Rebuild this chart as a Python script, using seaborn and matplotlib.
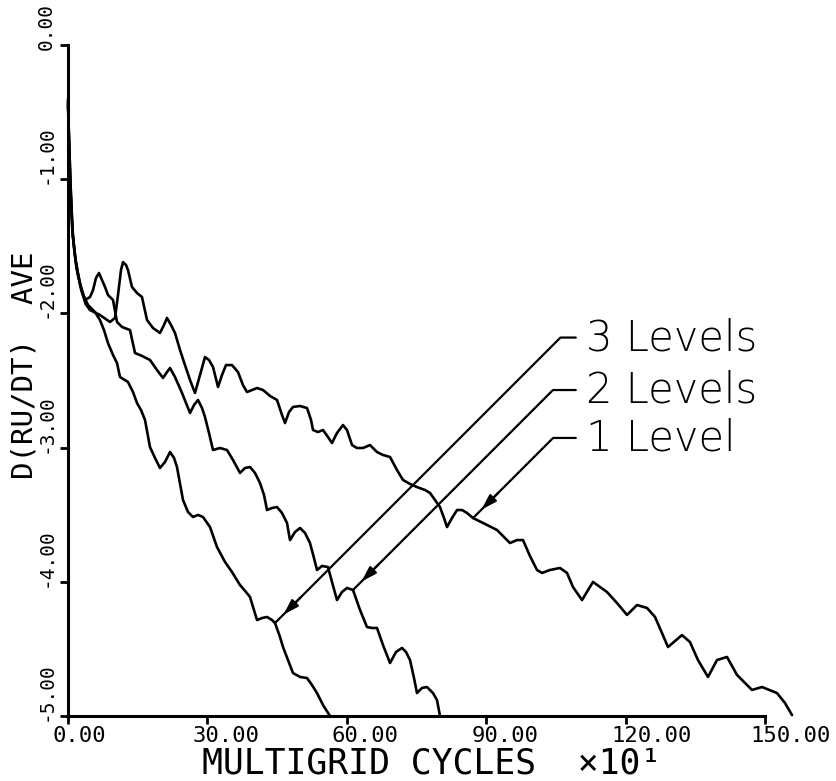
import numpy as np
import pandas as pd
import matplotlib
matplotlib.use("Agg")
import matplotlib.pyplot as plt
import matplotlib.transforms as mtransforms
import seaborn as sns
from matplotlib import font_manager

# ---------------- data ----------------
levels = ["3 Levels", "2 Levels", "1 Level"]

x3 = [0.0, 0.2, 0.5, 0.9, 1.4, 2.2, 3.1, 4.30, 5.81, 6.88, 7.74, 8.60, 9.68, 10.54, 11.18,
      12.90, 13.98, 14.84, 15.70, 16.56, 17.63, 18.71, 19.78, 20.86, 21.94, 22.80, 23.44,
      24.73, 25.81, 26.88, 27.96, 29.03, 30.54, 32.04, 33.76, 35.27, 36.99, 38.28, 39.14,
      40.65, 41.72, 42.80, 43.87, 44.52, 45.59, 46.24, 47.31, 48.39, 49.89, 51.40, 52.47,
      53.55, 54.84, 56.34]
y3 = [-0.40, -0.72, -1.05, -1.35, -1.55, -1.72, -1.85, -1.937, -1.990, -2.050, -2.124, -2.221,
      -2.310, -2.370, -2.474, -2.511, -2.586, -2.668, -2.720, -2.794, -2.996, -3.077, -3.152,
      -3.107, -3.033, -3.077, -3.145, -3.390, -3.480, -3.517, -3.502, -3.517, -3.592, -3.741,
      -3.852, -3.927, -4.024, -4.076, -4.113, -4.285, -4.270, -4.262, -4.285, -4.307, -4.411,
      -4.486, -4.583, -4.680, -4.709, -4.717, -4.769, -4.829, -4.918, -5.0]

x2 = [0.0, 0.3, 0.6, 1.0, 1.7, 2.6, 3.66, 4.73, 5.38, 6.02, 6.67, 7.31, 7.96, 8.60, 9.68,
      10.54, 11.61, 13.33, 14.41, 15.91, 17.63, 19.14, 20.43, 21.29, 21.94, 23.01, 24.52,
      25.38, 26.24, 27.10, 27.96, 28.82, 29.46, 30.32, 31.18, 32.69, 34.19, 35.48, 36.99,
      38.06, 39.14, 40.22, 41.29, 42.15, 42.80, 43.87, 44.95, 46.02, 47.10, 47.74, 48.82,
      49.89, 50.97, 52.04, 52.90, 53.55, 54.62, 55.91, 56.77, 57.85, 58.92, 60.00, 61.29,
      62.80, 64.30, 65.38, 66.45, 67.74, 69.25, 70.54, 71.83, 72.69, 73.55, 74.41, 75.05,
      76.13, 77.20, 78.49, 79.35, 80.00]
y2 = [-0.45, -0.78, -1.10, -1.42, -1.62, -1.78, -1.900, -1.878, -1.826, -1.736, -1.699,
      -1.751, -1.803, -1.863, -1.900, -2.064, -2.101, -2.124, -2.295, -2.317, -2.347, -2.422,
      -2.481, -2.437, -2.407, -2.474, -2.593, -2.668, -2.742, -2.683, -2.645, -2.705, -2.772,
      -2.891, -3.018, -3.003, -3.018, -3.092, -3.189, -3.152, -3.145, -3.189, -3.264, -3.353,
      -3.465, -3.450, -3.443, -3.487, -3.562, -3.689, -3.629, -3.599, -3.636, -3.711, -3.823,
      -3.912, -3.882, -3.890, -4.001, -4.136, -4.076, -4.046, -4.061, -4.210, -4.337, -4.344,
      -4.344, -4.471, -4.605, -4.523, -4.493, -4.523, -4.583, -4.717, -4.829, -4.791, -4.784,
      -4.829, -4.881, -5.0]

x1 = [0.0, 0.2, 0.5, 1.0, 1.8, 2.8, 3.8, 4.73, 6.88, 9.03, 10.11, 10.75, 11.40, 11.83, 12.47,
      12.90, 13.76, 14.84, 15.91, 16.99, 18.28, 19.78, 20.65, 21.29, 22.15, 23.01, 24.09,
      25.16, 26.24, 27.31, 28.39, 29.46, 30.32, 31.18, 32.26, 33.12, 33.98, 35.27, 36.56,
      37.63, 38.49, 39.57, 40.65, 41.94, 43.44, 44.95, 46.02, 46.67, 47.53, 48.39, 49.89,
      51.40, 52.26, 52.69, 53.76, 54.84, 55.91, 56.77, 57.85, 59.14, 60.00, 61.08, 62.15,
      63.44, 64.95, 66.45, 67.74, 69.25, 70.75, 72.04, 73.55, 75.05, 76.77, 77.85, 78.92,
      80.00, 80.86, 81.51, 82.58, 83.66, 84.73, 85.81, 87.10, 89.68, 92.26, 93.98, 95.05,
      96.56, 97.85, 99.35, 100.86, 101.94, 103.66, 105.81, 107.31, 108.60, 110.54, 112.90,
      115.91, 118.06, 120.22, 122.37, 124.52, 126.24, 127.74, 129.03, 132.04, 133.76,
      135.48, 137.63, 139.57, 141.72, 143.87, 147.10, 149.25, 152.47, 154.19, 155.70]
y1 = [-0.42, -0.68, -1.00, -1.40, -1.66, -1.82, -1.93, -1.975, -2.012, -2.064, -2.034, -1.863,
      -1.677, -1.618, -1.639, -1.677, -1.803, -1.848, -1.878, -2.049, -2.109, -2.146, -2.086,
      -2.034, -2.086, -2.146, -2.273, -2.385, -2.496, -2.593, -2.459, -2.325, -2.347, -2.399,
      -2.548, -2.459, -2.385, -2.385, -2.437, -2.534, -2.586, -2.571, -2.556, -2.571, -2.615,
      -2.645, -2.757, -2.817, -2.735, -2.697, -2.690, -2.705, -2.794, -2.869, -2.884, -2.869,
      -2.921, -2.966, -2.891, -2.832, -2.869, -2.981, -3.003, -3.003, -2.981, -3.033, -3.055,
      -3.070, -3.167, -3.241, -3.271, -3.294, -3.316, -3.338, -3.390, -3.443, -3.525, -3.592,
      -3.525, -3.465, -3.465, -3.487, -3.525, -3.569, -3.614, -3.674, -3.711, -3.689, -3.689,
      -3.808, -3.912, -3.934, -3.912, -3.897, -3.934, -4.039, -4.136, -4.001, -4.076, -4.158,
      -4.247, -4.173, -4.195, -4.262, -4.382, -4.486, -4.397, -4.449, -4.583, -4.709, -4.583,
      -4.560, -4.694, -4.806, -4.784, -4.829, -4.903, -4.993]

# points the labels point at (on each curve)
label_tips_x = [44.52, 61.29, 87.10]
label_tips_y = [-4.307, -4.061, -3.525]
label_text_y = [-2.18, -2.571, -2.928]

xticks = [0, 30, 60, 90, 120, 150]
xticklabels = ["0.00", "30.00", "60.00", "90.00", "120.00", "150.00"]
yticks = [0, -1, -2, -3, -4, -5]
yticklabels = ["0.00", "-1.00", "-2.00", "-3.00", "-4.00", "-5.00"]
xlabel = "MULTIGRID CYCLES  \u00d710\u00b9"
ylabel = "D(RU/DT)  AVE"

# ---------------- build table ----------------
frames = []
for name, xs, ys in zip(levels, [x3, x2, x1], [y3, y2, y1]):
    frames.append(pd.DataFrame({"cycles": xs, "resid": ys, "level": name,
                                "order": np.arange(len(xs))}))
df = pd.concat(frames, ignore_index=True)

# ---------------- style ----------------
sns.set_theme(style="white")
plt.rcParams["axes.unicode_minus"] = False
plt.rcParams["font.family"] = ["DejaVu Sans Mono", "DejaVu Sans"]

# pick a light sans face for the hand-lettered labels if one is installed
light_family, light_weight = "DejaVu Sans", "normal"
for fam in ["DejaVu Sans", "Lato", "Open Sans", "Inter", "Roboto", "Noto Sans"]:
    ws_num = []
    for f in font_manager.fontManager.ttflist:
        if f.name != fam:
            continue
        w = f.weight
        if isinstance(w, (int, float)):
            ws_num.append(int(w))
        else:
            ws_num.append(font_manager.weight_dict.get(str(w), 400))
    lw_ = [w for w in ws_num if w <= 300]
    if lw_:
        light_family, light_weight = fam, max(lw_)
        break

W, H = 836, 781
fig = plt.figure(figsize=(W / 100, H / 100), dpi=100)
fig.patch.set_facecolor("white")
x0px, x1px, y0px, y1px = 68, 798, 45, 716
ax = fig.add_axes([x0px / W, 1 - y1px / H, (x1px - x0px) / W, (y1px - y0px) / H])
ax.set_facecolor("white")

sns.lineplot(data=df, x="cycles", y="resid", hue="level", units="level",
             palette={k: "black" for k in levels}, sort=False, estimator=None,
             legend=False, linewidth=1.9, ax=ax)
for ln in ax.lines:
    ln.set_clip_on(False)
    ln.set_solid_joinstyle("round")

ax.set_xlim(0, (x1px - x0px) / 4.65)
ax.set_ylim(-5, 0)

for s in ["top", "right"]:
    ax.spines[s].set_visible(False)
for s in ["left", "bottom"]:
    ax.spines[s].set_color("black")
    ax.spines[s].set_linewidth(2.2)
ax.spines["bottom"].set_bounds(0, 150)
ax.spines["left"].set_bounds(-5, 0)

ax.set_xticks(xticks)
ax.set_xticklabels(xticklabels)
ax.set_yticks(yticks)
ax.set_yticklabels(yticklabels)
ax.tick_params(axis="both", bottom=True, left=True, direction="out", length=6,
               width=2, color="black", labelcolor="black")
ax.tick_params(axis="x", pad=1, labelsize=16)
ax.tick_params(axis="y", pad=3, labelsize=14)

dy_off = mtransforms.ScaledTranslation(0, -5 / 100, fig.dpi_scale_trans)
for lab in ax.get_yticklabels():
    lab.set_rotation(90)
    lab.set_va("bottom")
    lab.set_ha("right")
    lab.set_transform(lab.get_transform() + dy_off)
dx_off = mtransforms.ScaledTranslation(-15 / 100, 0, fig.dpi_scale_trans)
for lab in ax.get_xticklabels():
    lab.set_ha("left")
    lab.set_transform(lab.get_transform() + dx_off)

ax.set_xlabel(xlabel, fontsize=25, color="black")
ax.xaxis.set_label_coords((432 - x0px) / (x1px - x0px), -(746 - y1px) / (y1px - y0px))
ax.set_ylabel(ylabel, fontsize=21, color="black")
ax.yaxis.set_label_coords((38 - x0px) / (x1px - x0px), (y1px - 365) / (y1px - y0px))
ax.grid(False)

# ---------------- leader labels ----------------
px_per_x = 4.65
px_per_y = (y1px - y0px) / 5.0
for name, tx, ty, ly in zip(levels, label_tips_x, label_tips_y, label_text_y):
    text_x = 111.5
    stub_x = text_x - 2.3
    ax.text(text_x, ly, name, fontsize=30, family=light_family, weight=light_weight,
            ha="left", va="center", color="black")
    ax.annotate("", xy=(tx, ty), xytext=(stub_x, ly),
                arrowprops=dict(arrowstyle="-", color="black", lw=1.6,
                                shrinkA=0, shrinkB=0,
                                connectionstyle="angle,angleA=180,angleB=45,rad=0"))
    # small filled arrowhead a little before the tip
    d = 12 / np.sqrt(2)
    hx, hy = tx + d / px_per_x, ty + d / px_per_y
    sx, sy = tx + 3 * d / px_per_x, ty + 3 * d / px_per_y
    ax.annotate("", xy=(hx, hy), xytext=(sx, sy),
                arrowprops=dict(arrowstyle="-|>,head_length=0.7,head_width=0.22",
                                color="black", lw=1.6, shrinkA=0, shrinkB=0,
                                mutation_scale=13))

fig.savefig("out.png", dpi=100, facecolor="white")
